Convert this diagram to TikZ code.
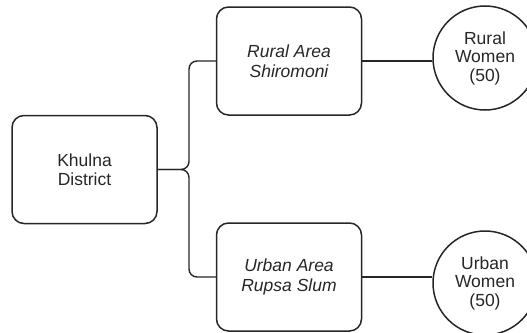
\documentclass[tikz,border=0pt]{standalone}
\usepackage{fontspec}
\setmainfont{Liberation Sans}
\begin{document}
\begin{tikzpicture}[x=1pt, y=-1pt,
  box/.style={draw=black!85, line width=1.5pt, rounded corners=12pt, minimum width=145pt, minimum height=108pt, inner sep=0pt, align=center, text=black!85, font=\fontsize{17.5}{19.5}\selectfont},
  group/.style={box, font=\fontsize{17.5}{20}\selectfont\itshape},
  sample/.style={draw=black!85, line width=1.5pt, circle, minimum size=104pt, inner sep=0pt, align=center, text=black!85, font=\fontsize{17.5}{18.5}\selectfont},
  link/.style={draw=black!85, line width=1.4pt}]
 \useasboundingbox (0,0) rectangle (527,332);

 \node [box] (khulna) at (84.5,169.5) {Khulna\\District};
 \node [group] (rural) at (289,61) {Rural Area\\Shiromoni};
 \node [group] (urban) at (289,277) {Urban Area\\Rupsa Slum};
 \node [sample] (ruralw) at (485,58) {Rural\\Women\\(50)};
 \node [sample] (urbanw) at (485,283) {Urban\\Women\\(50)};

 \coordinate (fork) at (189,169.5);

 \draw [link, rounded corners=8pt] (khulna.east) -- (fork) |- (rural.west);
 \draw [link, rounded corners=8pt] (khulna.east) -- (fork) |- (urban.west);

 \draw [link] (rural.east) -- (ruralw.west |- rural.east);
 \draw [link] (urban.east) -- (urbanw.west |- urban.east);
\end{tikzpicture}
\end{document}
